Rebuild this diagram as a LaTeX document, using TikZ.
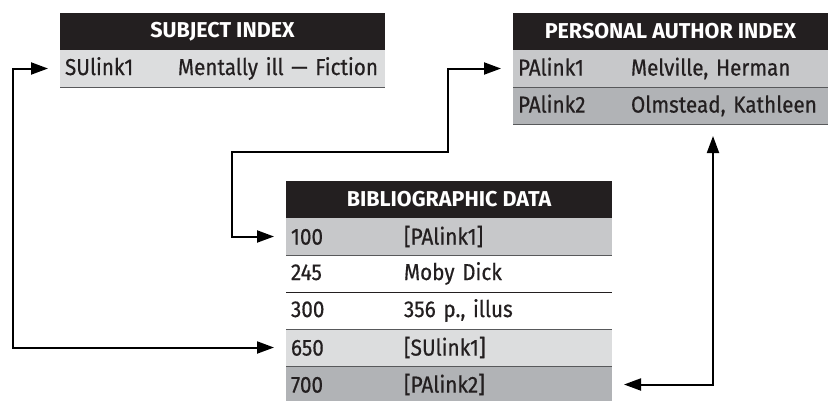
\documentclass[tikz,border=0pt]{standalone}
\usepackage{fontspec}
\setmainfont{Fira Sans}
\newfontfamily\rowfont{Fira Sans}[FakeStretch=0.9, FakeBold=0.5]
\usetikzlibrary{arrows.meta,positioning}
\definecolor{hdblack}{HTML}{231F20}
\definecolor{rowlight}{HTML}{DCDDDE}
\definecolor{rowmid}{HTML}{C7C8CA}
\definecolor{rowdark}{HTML}{B1B3B6}
\definecolor{rulegray}{HTML}{58595B}

\tikzset{
  hdbox/.style={fill=hdblack, text=white, font=\bfseries\fontsize{21.5}{24}\selectfont,
    minimum height=37pt, inner sep=0pt, outer sep=0pt, anchor=north west},
  rowbox/.style={minimum height=37pt, inner xsep=5pt, inner ysep=0pt, outer sep=0pt,
    font=\rowfont\fontsize{23}{26}\selectfont, align=left, text=hdblack},
  sep/.style={rulegray, line width=1pt},
  link/.style={line width=2pt, {Triangle[length=17pt,width=12pt]}-{Triangle[length=17pt,width=12pt]},
    shorten <=12pt, shorten >=12pt},
}
\newcommand{\entry}[2]{\makebox[113pt][l]{#1}#2}

\begin{document}
\begin{tikzpicture}[x=1pt,y=-1pt]
  \useasboundingbox (0,0) rectangle (830,400);
  \clip (0,0) rectangle (830,400);

  % subject index
  \node[hdbox, minimum width=325pt] (subjhd) at (60,13) {SUBJECT INDEX};
  \node[rowbox, text width=315pt, fill=rowlight, below=0pt of subjhd] (su1) {\entry{SUlink1}{Mentally ill — Fiction}};
  \draw[sep] (su1.south west) -- (su1.south east);

  % personal author index
  \node[hdbox, minimum width=315pt] (authhd) at (513,13) {PERSONAL AUTHOR INDEX};
  \node[rowbox, text width=305pt, fill=rowmid, below=0pt of authhd] (pa1) {\entry{PAlink1}{Melville, Herman}};
  \node[rowbox, text width=305pt, fill=rowdark, below=0pt of pa1] (pa2) {\entry{PAlink2}{Olmstead, Kathleen}};
  \draw[sep] (pa1.south west) -- (pa1.south east);
  \draw[sep] (pa2.south west) -- (pa2.south east);

  % bibliographic record
  \node[hdbox, minimum width=326pt] (bibhd) at (286,181) {BIBLIOGRAPHIC DATA};
  \node[rowbox, text width=316pt, fill=rowmid, below=0pt of bibhd] (b100) {\entry{100}{[PAlink1]}};
  \node[rowbox, text width=316pt, fill=white, below=0pt of b100] (b245) {\entry{245}{Moby Dick}};
  \node[rowbox, text width=316pt, fill=white, below=0pt of b245] (b300) {\entry{300}{356 p., illus}};
  \node[rowbox, text width=316pt, fill=rowlight, below=0pt of b300] (b650) {\entry{650}{[SUlink1]}};
  \node[rowbox, text width=316pt, fill=rowdark, below=0pt of b650] (b700) {\entry{700}{[PAlink2]}};
  \draw[sep] (b100.south west) -- (b100.south east);
  \draw[hdblack, line width=0.8pt] (b245.south west) -- (b245.south east);
  \draw[sep] (b300.south west) -- (b300.south east);
  \draw[sep] (b650.south west) -- (b650.south east);

  % links between records
  \coordinate (lft) at (13,0);
  \coordinate (jog1) at (232,152);
  \coordinate (jog2) at (448,152);
  \coordinate (rgt) at (713,0);
  \draw[link] (b650.west) -- (b650.west -| lft) |- (su1.west);
  \draw[link] (b100.west) -| (jog1) -- (jog2) |- (pa1.west);
  \draw[link] (b700.east) -| (rgt |- pa2.south);
\end{tikzpicture}
\end{document}
